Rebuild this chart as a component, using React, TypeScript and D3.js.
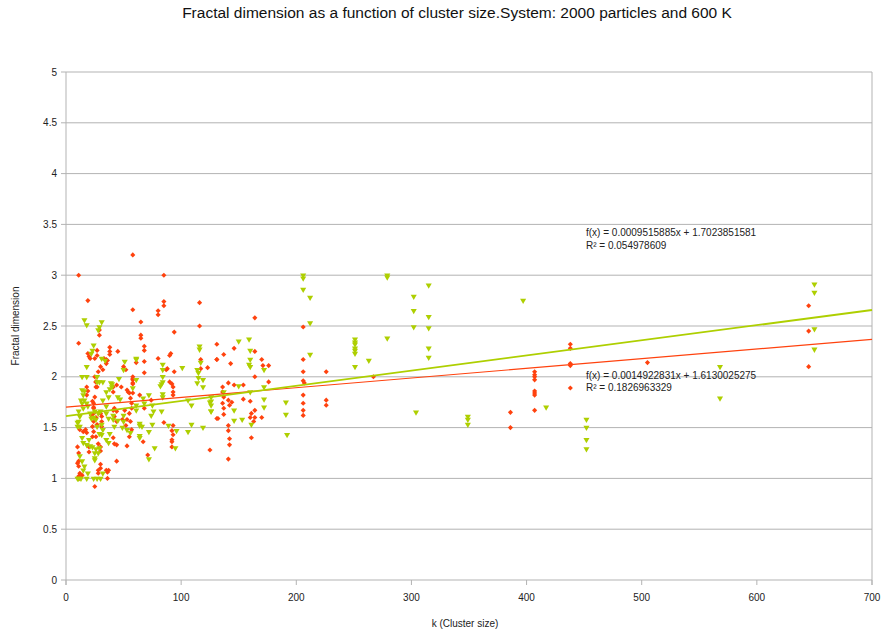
import React from 'react'
import { scaleLinear, line, symbol, symbolSquare, symbolTriangle } from 'd3'

// chart text
const title = 'Fractal dimension as a function of cluster size.System: 2000 particles and 600 K'
const xTitle = 'k (Cluster size)'
const yTitle = 'Fractal dimension'
const xTicks = [0, 100, 200, 300, 400, 500, 600, 700]
const yTicks = [0, 0.5, 1, 1.5, 2, 2.5, 3, 3.5, 4, 4.5, 5]

// trend line coefficients, as printed on the chart
const redSlope = 0.0009515885
const redIntercept = 1.7023851581
const redR2 = '0.054978609'
const greenSlope = 0.0014922831
const greenIntercept = 1.6130025275
const greenR2 = '0.1826963329'

// [k, fractal dimension]
const redPoints: [number, number][] = [
  [58, 3.2], [11, 3.0], [19, 2.75], [58, 2.66], [11, 2.33], [29, 2.46], [29, 2.41], [27, 2.26], [27, 2.21],
  [25, 2.18], [38, 2.29], [38, 2.25], [33, 2.18], [35, 2.17], [36, 2.16], [45, 2.25], [30, 2.1], [28, 2.05],
  [26, 1.95], [26, 1.9], [25, 1.8], [41, 1.9], [41, 1.85], [48, 1.9], [53, 1.87], [54, 1.85], [58, 1.98],
  [58, 1.93], [57, 1.74], [57, 1.69], [55, 1.64], [56, 1.56], [24, 1.74], [24, 1.69], [24, 1.64], [24, 1.56],
  [23, 1.51], [24, 1.46], [23, 1.41], [12, 1.48], [15, 1.46], [30, 1.64], [31, 1.61], [31, 1.56], [31, 1.51],
  [26, 1.6], [27, 1.53], [41, 1.67], [42, 1.61], [44, 1.56], [51, 1.67], [53, 1.58], [52, 1.52], [44, 1.33],
  [53, 1.32], [30, 1.31], [30, 1.27], [44, 1.17], [11, 1.25], [11, 1.17], [11, 1.12], [35, 1.08], [37, 1.08],
  [28, 1.08], [28, 1.05], [12, 1.05], [25, 0.92], [12, 1.0], [36, 1.0], [10, 1.31], [10, 1.15], [11, 1.02],
  [14, 1.03], [19, 2.23], [20, 2.2], [21, 2.18], [25, 2.0], [26, 1.95], [27, 1.9], [18, 1.9], [19, 1.86],
  [18, 1.82], [23, 1.76], [24, 1.7], [22, 1.62], [17, 1.48], [18, 1.45], [20, 1.31], [20, 1.26], [26, 1.41],
  [28, 1.34], [30, 1.14], [30, 1.1], [36, 1.06], [32, 2.07], [35, 2.13], [38, 2.22], [44, 1.92], [42, 1.69],
  [44, 1.66], [41, 1.4], [42, 1.34], [50, 2.1], [52, 2.07], [55, 1.84], [56, 1.79], [55, 1.41], [57, 1.48],
  [49, 1.58],
  [85, 3.0], [85, 2.74], [85, 2.7], [80, 2.65], [80, 2.61], [116, 2.73], [65, 2.54], [65, 2.41], [65, 2.38],
  [116, 2.5], [94, 2.44], [68, 2.3], [68, 2.26], [91, 2.23], [90, 2.21], [131, 2.32], [61, 2.14], [68, 2.15],
  [80, 2.18], [88, 2.08], [87, 2.07], [117, 2.17], [117, 2.08], [123, 2.09], [131, 2.17], [68, 2.04], [94, 2.05],
  [58, 2.0], [58, 1.97], [58, 1.94], [58, 1.84], [90, 1.95], [92, 1.93], [93, 1.9], [68, 1.69], [64, 1.82],
  [74, 1.77], [93, 1.85], [93, 1.82], [132, 1.59], [85, 1.55], [93, 1.52], [92, 1.47], [93, 1.43], [92, 1.38],
  [92, 1.36], [92, 1.31], [67, 1.36], [71, 1.23], [125, 1.28],
  [164, 2.58], [131, 2.17], [146, 2.28], [137, 2.22], [164, 2.25], [143, 2.13], [170, 2.17], [171, 2.11],
  [176, 2.11], [164, 2.0], [206, 2.49], [206, 2.17], [206, 2.05], [206, 1.96], [207, 1.94], [206, 1.82],
  [206, 1.74], [206, 1.67], [206, 1.62], [226, 2.05], [226, 1.77], [226, 1.72], [136, 1.9], [136, 1.85],
  [137, 1.8], [136, 1.74], [137, 1.69], [137, 1.63], [141, 1.94], [141, 1.77], [142, 1.72], [146, 1.92],
  [144, 1.75], [154, 1.92], [154, 1.78], [160, 1.76], [176, 1.95], [170, 1.6], [161, 1.64], [160, 1.6],
  [164, 1.67], [164, 1.6], [163, 1.56], [141, 1.52], [141, 1.47], [142, 1.39], [142, 1.33], [141, 1.19],
  [131, 1.59], [161, 1.4],
  [267, 2.0], [407, 2.05], [407, 2.02], [407, 2.0], [407, 1.97], [407, 1.86], [407, 1.84], [407, 1.82],
  [407, 1.67], [386, 1.65], [386, 1.5], [438, 2.32], [438, 2.28], [438, 2.13], [438, 2.11], [438, 1.89],
  [505, 2.14], [645, 2.7], [645, 2.45], [645, 2.1],
]

const greenPoints: [number, number][] = [
  [16, 2.56], [18, 2.51], [31, 2.54], [29, 2.49], [28, 2.46], [24, 2.31], [23, 2.26], [22, 2.23], [18, 2.1],
  [31, 2.18], [34, 2.16], [51, 2.15], [50, 2.07], [61, 2.18], [14, 2.0], [18, 2.0], [27, 2.0], [27, 1.95],
  [46, 1.98], [32, 1.95], [39, 1.94], [40, 1.9], [14, 1.87], [15, 1.82], [16, 1.77], [35, 1.85], [37, 1.8],
  [45, 1.8], [18, 1.74], [19, 1.71], [15, 1.69], [11, 1.66], [12, 1.61], [11, 1.56], [12, 1.51], [25, 1.66],
  [28, 1.64], [30, 1.66], [35, 1.64], [37, 1.59], [24, 1.6], [41, 1.62], [45, 1.57], [50, 1.62], [50, 1.56],
  [49, 1.5], [31, 1.53], [32, 1.48], [31, 1.43], [53, 1.48], [35, 1.38], [37, 1.35], [14, 1.4], [15, 1.35],
  [64, 1.52], [64, 1.42], [18, 1.33], [23, 1.31], [25, 1.25], [29, 1.3], [12, 1.22], [14, 1.17], [16, 1.12],
  [25, 1.2], [15, 1.08], [11, 1.0], [13, 1.0], [18, 1.0], [24, 1.0], [30, 1.0], [19, 1.05], [10, 1.55],
  [10, 1.51], [10, 1.0], [13, 1.77], [14, 1.74], [16, 1.86], [21, 1.64], [22, 1.59], [26, 1.58], [27, 1.51],
  [29, 1.44], [32, 1.77], [35, 1.71], [38, 1.88], [40, 1.93], [29, 1.95], [47, 1.78], [41, 1.58], [42, 1.51],
  [38, 1.44], [20, 1.38], [21, 1.32], [26, 1.29], [28, 1.25], [25, 1.18], [32, 1.05], [27, 1.0],
  [61, 2.17], [84, 2.12], [84, 2.07], [84, 2.0], [84, 1.95], [83, 1.93], [82, 1.91], [101, 2.09], [116, 2.3],
  [116, 2.27], [117, 2.14], [114, 2.07], [115, 2.04], [115, 1.99], [114, 1.94], [119, 1.97], [119, 1.9],
  [126, 1.8], [125, 1.75], [126, 1.72], [126, 1.66], [61, 1.97], [58, 1.89], [72, 1.82], [84, 1.83], [84, 1.8],
  [67, 1.79], [68, 1.74], [61, 1.72], [61, 1.67], [75, 1.72], [76, 1.66], [74, 1.62], [83, 1.66], [106, 1.77],
  [109, 1.72], [64, 1.54], [66, 1.51], [75, 1.53], [89, 1.52], [109, 1.53], [119, 1.5], [72, 1.46], [64, 1.4],
  [96, 1.47], [106, 1.46], [77, 1.3], [72, 1.19], [95, 1.3], [56, 1.45],
  [206, 3.0], [206, 2.97], [206, 2.86], [212, 2.78], [212, 2.53], [212, 2.22], [150, 2.35], [159, 2.37],
  [160, 2.26], [160, 2.17], [159, 2.12], [160, 2.1], [172, 2.07], [172, 1.9], [150, 1.91], [160, 1.85],
  [172, 1.78], [172, 1.7], [126, 1.76], [126, 1.66], [146, 1.67], [153, 1.58], [146, 1.57], [161, 1.53],
  [191, 1.75], [191, 1.63], [192, 1.43], [137, 1.85],
  [279, 3.0], [279, 2.98], [302, 2.79], [315, 2.9], [302, 2.65], [315, 2.59], [302, 2.49], [315, 2.48],
  [279, 2.38], [315, 2.28], [315, 2.19], [251, 2.37], [251, 2.34], [251, 2.32], [251, 2.28], [251, 2.26],
  [251, 2.23], [251, 2.1], [263, 2.16], [304, 1.65], [349, 1.61], [349, 1.58], [349, 1.53], [397, 2.75],
  [417, 1.7], [452, 1.58], [452, 1.5], [452, 1.38], [452, 1.29], [568, 2.1], [568, 1.79], [650, 2.91],
  [650, 2.83], [650, 2.47], [650, 2.27],
]

const W = 883
const H = 634
const plot = { left: 66, right: 872, top: 72, bottom: 580 }
const red = '#ff420e'
const green = '#aecf00'
const gray = '#b3b3b3'
const font = '"Liberation Sans", Arial, sans-serif'

export default function App() {
  const x = scaleLinear().domain([0, 700]).range([plot.left, plot.right])
  const y = scaleLinear().domain([0, 5]).range([plot.bottom, plot.top])

  const diamond = symbol().type(symbolSquare).size(13)()
  const triangle = symbol().type(symbolTriangle).size(16)()

  const trend = (m: number, b: number) =>
    line<number>().x(k => x(k)).y(k => y(m * k + b))([0, 700])

  return (
    <svg width={W} height={H} style={{ position: 'absolute', left: 0, top: 0, background: '#fff' }}
      fontFamily={font}>
      <rect width={W} height={H} fill="#fff" />
      <text x={457} y={18} fontSize={15.5} textAnchor="middle" fill="#111">{title}</text>

      {/* grid + frame */}
      {yTicks.map(t => (
        <g key={'y' + t}>
          <line x1={plot.left - 5} x2={plot.right} y1={y(t)} y2={y(t)} stroke={gray} strokeWidth={1} />
          <text x={plot.left - 9} y={y(t)} dy="0.35em" fontSize={10} textAnchor="end" fill="#222">{String(t)}</text>
        </g>
      ))}
      <line x1={plot.left} x2={plot.left} y1={plot.top} y2={plot.bottom + 5} stroke={gray} />
      <line x1={plot.right} x2={plot.right} y1={plot.top} y2={plot.bottom + 5} stroke={gray} />
      {xTicks.map(t => (
        <g key={'x' + t}>
          <line x1={x(t)} x2={x(t)} y1={plot.bottom} y2={plot.bottom + 5} stroke={gray} />
          <text x={x(t)} y={plot.bottom + 21} fontSize={10} textAnchor="middle" fill="#222">{t}</text>
        </g>
      ))}

      {/* points */}
      {redPoints.map(([k, d], i) => (
        <path key={'r' + i} d={diamond || ''} fill={red}
          transform={`translate(${x(k)},${y(d)}) rotate(45)`} />
      ))}
      {greenPoints.map(([k, d], i) => (
        <path key={'g' + i} d={triangle || ''} fill={green}
          transform={`translate(${x(k)},${y(d)}) rotate(180)`} />
      ))}

      {/* trend lines */}
      <path d={trend(redSlope, redIntercept) || ''} stroke={red} strokeWidth={1.2} fill="none" />
      <path d={trend(greenSlope, greenIntercept) || ''} stroke={green} strokeWidth={1.8} fill="none" />

      <g fontSize={10} fill="#222">
        <text x={586} y={236}>{`f(x) = ${redSlope}x + ${redIntercept}`}</text>
        <text x={586} y={249}>{`R² = ${redR2}`}</text>
        <text x={586} y={379}>{`f(x) = ${greenSlope}x + ${greenIntercept}`}</text>
        <text x={586} y={391}>{`R² = ${greenR2}`}</text>
      </g>

      <text x={465} y={627} fontSize={10} textAnchor="middle" fill="#222">{xTitle}</text>
      <text transform={`translate(19,${(plot.top + plot.bottom) / 2}) rotate(-90)`} fontSize={10}
        textAnchor="middle" fill="#222">{yTitle}</text>
    </svg>
  )
}
